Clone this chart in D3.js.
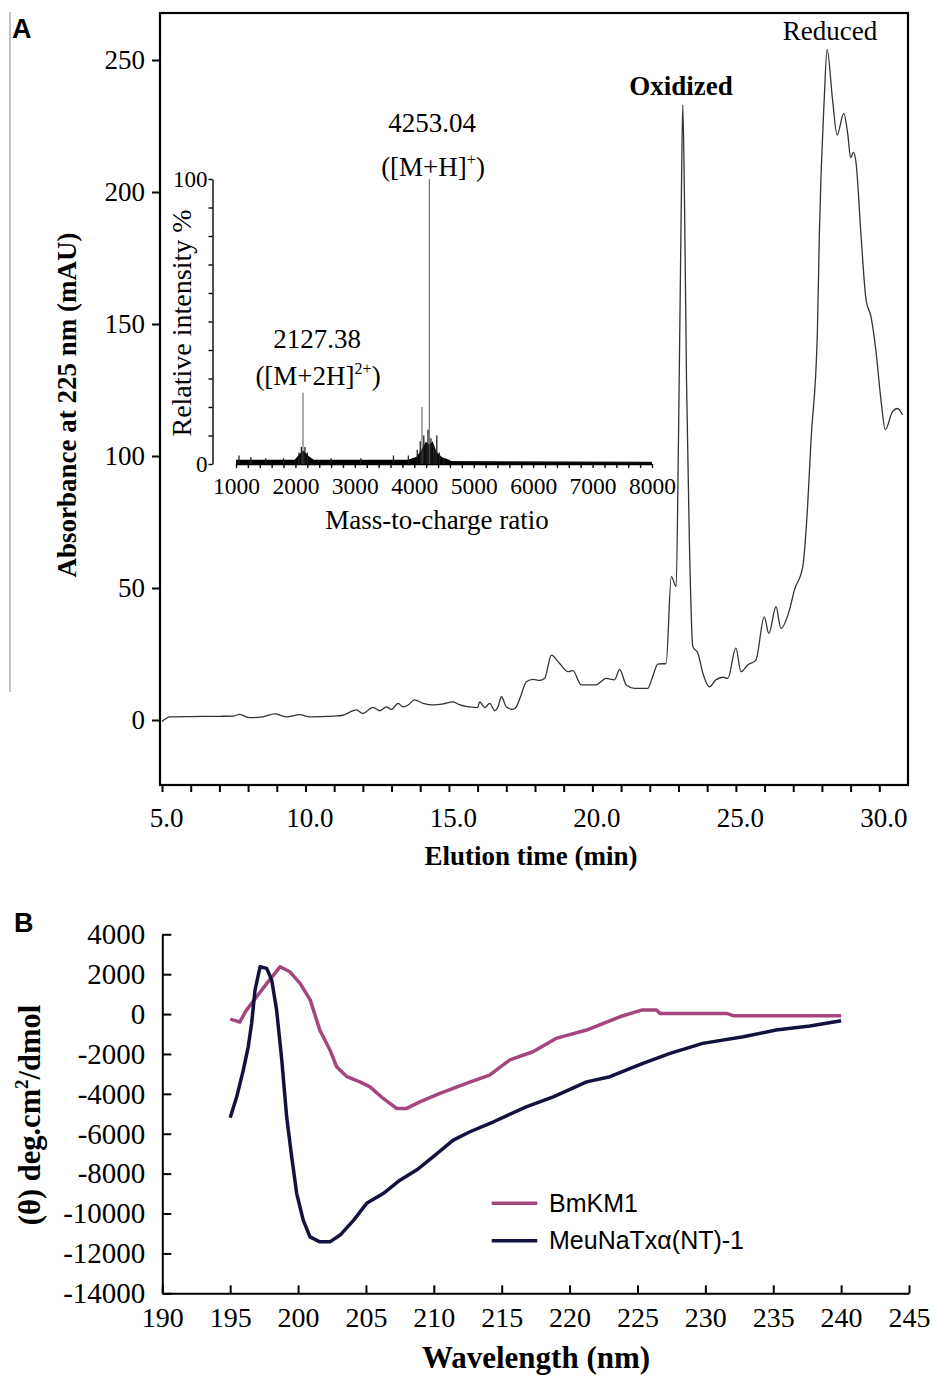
<!DOCTYPE html>
<html><head><meta charset="utf-8">
<script src="https://cdn.jsdelivr.net/npm/d3@7"></script>
<style>body{margin:0;background:#fff}</style>
</head><body><svg id="c" width="933" height="1376" xmlns="http://www.w3.org/2000/svg"></svg>
<script>
// ---------- Panel A: RP-HPLC chromatogram ----------
const chromTime = [5.0,5.28,6.0,7.0,7.5,7.7,8.06,8.5,8.93,9.34,9.8,10.15,11.0,11.3,11.78,12.0,12.35,12.6,12.82,13.0,13.23,13.4,13.58,13.8,14.1,14.45,14.8,15.15,15.38,15.72,16.0,16.07,16.25,16.42,16.6,16.71,16.83,17.0,17.23,17.35,17.5,17.7,17.93,18.16,18.34,18.57,18.86,19.15,19.32,19.61,20.13,20.48,20.77,20.95,21.18,21.47,21.93,22.1,22.28,22.57,22.75,22.92,23.0,23.1,23.15,23.21,23.28,23.38,23.5,23.68,23.85,24.08,24.3,24.55,24.72,25.0,25.18,25.41,25.7,25.99,26.15,26.4,26.57,26.87,27.04,27.33,27.5,27.62,27.84,27.91,28.08,28.18,28.37,28.53,28.76,28.9,29.0,29.1,29.19,29.36,29.54,29.71,29.88,30.06,30.21,30.46,30.64,30.81];
const chromAbs  = [-0.6,1.2,1.3,1.4,1.5,2.1,0.9,1.2,2.3,1.2,2.0,1.2,1.5,1.8,3.8,2.5,4.8,3.5,5.0,4.0,6.3,5.0,5.7,7.6,6.3,5.7,6.1,6.9,5.7,5.0,4.7,6.9,4.7,6.3,3.5,5.0,8.8,5.0,4.0,5.0,9.0,14.5,15.4,15.0,15.8,24.6,21.4,18.3,18.7,13.3,13.3,15.8,15.2,19.2,13.3,12.0,12.0,16.4,21.2,21.4,54.3,50.5,106,197,233,197,129,68,27.8,25.2,17.7,12.6,15.2,16.2,15.8,27.2,18.3,20.8,22.7,39.1,32.8,42.9,34.7,41.7,49.2,58,80.8,106,146,184,235,254,235,221.6,229.8,222,213,215,211,184,159,152.8,140,121,110,116.8,118,115.5];
const timeTicks = [5,10,15,20,25,30];
const absTicks = [0,50,100,150,200,250];

// ---------- Inset: mass spectrum ----------
const msBaseMz  = [1000,2000,2080,2130,2200,2300,3900,4050,4150,4200,4253,4300,4350,4450,4600,8000];
const msBaseInt = [1,1,3,4,2.5,1,1,2,5,7,6,7,4,2,0.8,0.5];
const msPeakMz  = [1050,1250,1500,1800,2060,2100,2127,2160,2200,2600,3100,3650,3900,4050,4100,4130,4160,4200,4230,4253,4280,4320,4350,4379,4420,4500];
const msPeakInt = [3,2.5,2,2,4,6,25,6,4,2,2,3,3,5,8,20,10,7,12,100,9,7,5,10,4,2];
const msTicks = [1000,2000,3000,4000,5000,6000,7000,8000];

// ---------- Panel B: CD spectra ----------
const bmWl    = [195,195.5,195.7,196.2,196.95,197.7,198.67,199.4,200.15,200.9,201.6,202.35,202.84,203.6,204.55,205.3,206.27,207.26,208.0,208.97,210.45,212.5,214.1,215.6,217.3,219.0,221.25,223.7,225.3,226.4,226.65,231.56,232.05,240];
const bmTheta = [-250,-350,-400,200,870,1540,2370,2120,1540,700,-800,-1800,-2640,-3140,-3400,-3650,-4230,-4730,-4730,-4400,-3980,-3450,-3060,-2300,-1890,-1220,-800,-135,200,200,35,35,-80,-80];
const meuWl    = [195,195.48,195.97,196.33,196.58,196.83,197.2,197.69,198.06,198.42,198.8,199.16,199.53,199.9,200.38,200.88,201.6,202.35,203.1,204.1,205.05,206.27,207.5,208.73,209.96,211.43,212.66,214.4,216.8,218.8,221.25,222.97,225.4,227.4,229.8,232.8,235.2,237.7,240];
const meuTheta = [-5200,-4150,-2800,-1640,-460,1200,2370,2290,1700,200,-2300,-5150,-7150,-9000,-10330,-11170,-11420,-11420,-11080,-10330,-9490,-9000,-8330,-7820,-7150,-6320,-5900,-5400,-4650,-4150,-3400,-3140,-2470,-1970,-1470,-1140,-800,-600,-335];
const wlTicks = [190,195,200,205,210,215,220,225,230,235,240,245];
const thetaTicks = [-14000,-12000,-10000,-8000,-6000,-4000,-2000,0,2000,4000];
const seriesNames = ["BmKM1","MeuNaTxα(NT)-1"];

// ================= drawing =================
const SERIF = "'Liberation Serif','Times New Roman',serif";
const SANS = "'Liberation Sans',Arial,sans-serif";
const svg = d3.select("#c");

function styleAxis(g, size, sw) {
  g.selectAll("text").attr("font-family", SERIF).attr("font-size", size).attr("fill", "#000");
  g.selectAll("line").attr("stroke", "#000").attr("stroke-width", sw);
  g.selectAll("path.domain").attr("stroke", "#000").attr("stroke-width", sw);
}

// stray left rule
svg.append("line").attr("x1",10).attr("x2",10).attr("y1",12).attr("y2",692).attr("stroke","#888").attr("stroke-width",1);

// ---- Panel A ----
const xA = d3.scaleLinear().domain([4.93, 31.0]).range([160, 908]);
const yA = d3.scaleLinear().domain([0, 250]).range([720, 60]);

svg.append("text").attr("x",12).attr("y",38).attr("font-family",SANS).attr("font-weight","bold").attr("font-size",27).text("A");

svg.append("defs").append("clipPath").attr("id","clipA").append("rect").attr("x",160).attr("y",13).attr("width",748).attr("height",772);

const gxA = svg.append("g").attr("transform","translate(0,785)")
  .call(d3.axisBottom(xA).tickValues(d3.range(5,31,1)).tickSize(7).tickSizeOuter(0).tickPadding(15.5)
    .tickFormat(d => timeTicks.includes(d) ? d.toFixed(1) : ""));
gxA.select(".domain").remove();
styleAxis(gxA, 27, 2);
gxA.selectAll("text").attr("dx", 4);

const gyA = svg.append("g").attr("transform","translate(160,0)")
  .call(d3.axisLeft(yA).tickValues(absTicks).tickSize(8).tickSizeOuter(0).tickPadding(7).tickFormat(d => String(d)));
gyA.select(".domain").remove();
styleAxis(gyA, 27, 2);

svg.append("rect").attr("x",160).attr("y",13).attr("width",748).attr("height",772)
  .attr("fill","none").attr("stroke","#000").attr("stroke-width",2.2);

const chromData = chromTime.map((t,i) => [t, chromAbs[i]]);
svg.append("path").datum(chromData).attr("clip-path","url(#clipA)")
  .attr("d", d3.line().x(d => xA(d[0])).y(d => yA(d[1])).curve(d3.curveMonotoneX))
  .attr("fill","none").attr("stroke","#333").attr("stroke-width",1.3);

svg.append("text").attr("x",681).attr("y",95).attr("text-anchor","middle").attr("font-family",SERIF)
  .attr("font-weight","bold").attr("font-size",27).text("Oxidized");
svg.append("text").attr("x",830).attr("y",40).attr("text-anchor","middle").attr("font-family",SERIF)
  .attr("font-size",27).text("Reduced");

svg.append("text").attr("x",531).attr("y",865).attr("text-anchor","middle").attr("font-family",SERIF)
  .attr("font-weight","bold").attr("font-size",27).text("Elution time (min)");
svg.append("text").attr("transform","translate(76,405) rotate(-90)").attr("text-anchor","middle")
  .attr("font-family",SERIF).attr("font-weight","bold").attr("font-size",27).text("Absorbance at 225 nm (mAU)");

// ---- Inset ----
const xI = d3.scaleLinear().domain([1000, 8000]).range([236, 652]);
const yI = d3.scaleLinear().domain([0, 100]).range([464, 179]);

const gyI = svg.append("g").attr("transform","translate(212.5,0)")
  .call(d3.axisLeft(yI).tickValues(d3.range(0,101,10)).tickSize(4).tickSizeOuter(0).tickPadding(1)
    .tickFormat(d => (d === 0 || d === 100) ? String(d) : ""));
styleAxis(gyI, 23, 1.4);

const gxI = svg.append("g").attr("transform","translate(0,464)")
  .call(d3.axisBottom(xI).tickValues(d3.range(1000,8001,200)).tickSize(4).tickSizeOuter(0).tickPadding(9.8)
    .tickFormat(d => msTicks.includes(d) ? String(d) : ""));
styleAxis(gxI, 23.5, 1.4);

const baseData = msBaseMz.map((m,i) => [m, msBaseInt[i]]);
svg.append("path").datum(baseData)
  .attr("d", d3.area().x(d => xI(d[0])).y0(yI(0)).y1(d => yI(d[1])))
  .attr("fill","#000");
svg.append("path").datum(baseData.filter(d => d[0] <= 4600))
  .attr("d", d3.line().x(d => xI(d[0])).y(d => yI(d[1])))
  .attr("fill","none").attr("stroke","#000").attr("stroke-width",3);
svg.append("path").datum(baseData.filter(d => d[0] >= 4600))
  .attr("d", d3.line().x(d => xI(d[0])).y(d => yI(d[1])))
  .attr("fill","none").attr("stroke","#111").attr("stroke-width",1.6);
svg.append("g").selectAll("line").data(msPeakMz.map((m,i) => [m, msPeakInt[i]])).join("line")
  .attr("x1", d => xI(d[0])).attr("x2", d => xI(d[0]))
  .attr("y1", yI(0)).attr("y2", d => yI(d[1]))
  .attr("stroke", d => d[1] > 15 ? "#555" : "#222").attr("stroke-width", d => d[1] > 15 ? 1 : 1.3);

svg.append("text").attr("x",437).attr("y",529).attr("text-anchor","middle").attr("font-family",SERIF)
  .attr("font-size",27).text("Mass-to-charge ratio");
svg.append("text").attr("transform","translate(191,323) rotate(-90)").attr("text-anchor","middle")
  .attr("font-family",SERIF).attr("font-size",28).text("Relative intensity %");

svg.append("text").attr("x",432).attr("y",132).attr("text-anchor","middle").attr("font-family",SERIF)
  .attr("font-size",27).text("4253.04");
const t1 = svg.append("text").attr("x",433).attr("y",176).attr("text-anchor","middle").attr("font-family",SERIF).attr("font-size",27);
t1.append("tspan").text("([M+H]");
t1.append("tspan").attr("dy",-11).attr("font-size",16).text("+");
t1.append("tspan").attr("dy",11).text(")");

svg.append("text").attr("x",317).attr("y",348).attr("text-anchor","middle").attr("font-family",SERIF)
  .attr("font-size",27).text("2127.38");
const t2 = svg.append("text").attr("x",318).attr("y",385).attr("text-anchor","middle").attr("font-family",SERIF).attr("font-size",27);
t2.append("tspan").text("([M+2H]");
t2.append("tspan").attr("dy",-11).attr("font-size",16).text("2+");
t2.append("tspan").attr("dy",11).text(")");

// ---- Panel B ----
const xB = d3.scaleLinear().domain([190, 245]).range([162.3, 909]);
const yB = d3.scaleLinear().domain([-14000, 4000]).range([1293.3, 934.3]);

svg.append("text").attr("x",14).attr("y",932).attr("font-family",SANS).attr("font-weight","bold").attr("font-size",27).text("B");

const gyB = svg.append("g").attr("transform","translate(162.3,0)")
  .call(d3.axisLeft(yB).tickValues(thetaTicks).tickSize(-9).tickSizeOuter(0).tickPadding(17).tickFormat(d => String(d)));
styleAxis(gyB, 29, 2);

const gxB = svg.append("g").attr("transform","translate(0,1293.3)")
  .call(d3.axisBottom(xB).tickValues(wlTicks).tickSize(-8).tickSizeOuter(0).tickPadding(14).tickFormat(d => String(d)));
styleAxis(gxB, 28, 2);

const colors = ["#a5467f", "#12123f"];
const lineB = d3.line().x(d => xB(d[0])).y(d => yB(d[1]));
svg.append("path").datum(bmWl.map((w,i) => [w, bmTheta[i]])).attr("d", lineB)
  .attr("fill","none").attr("stroke",colors[0]).attr("stroke-width",3.5).attr("stroke-linejoin","round");
svg.append("path").datum(meuWl.map((w,i) => [w, meuTheta[i]])).attr("d", lineB)
  .attr("fill","none").attr("stroke",colors[1]).attr("stroke-width",3.5).attr("stroke-linejoin","round");

const leg = svg.append("g");
seriesNames.forEach((n,i) => {
  const y = 1203.3 + i*37.4;
  leg.append("line").attr("x1",491.7).attr("x2",537.3).attr("y1",y).attr("y2",y).attr("stroke",colors[i]).attr("stroke-width",3.5);
  leg.append("text").attr("x",549).attr("y",y+8.5).attr("font-family",SANS).attr("font-size",25).text(n);
});

svg.append("text").attr("x",536).attr("y",1368).attr("text-anchor","middle").attr("font-family",SERIF)
  .attr("font-weight","bold").attr("font-size",31).text("Wavelength (nm)");
const t3 = svg.append("text").attr("transform","translate(40,1115) rotate(-90)").attr("text-anchor","middle")
  .attr("font-family",SERIF).attr("font-weight","bold").attr("font-size",30.5);
t3.append("tspan").text("(θ) deg.cm");
t3.append("tspan").attr("dy",-12).attr("font-size",19).text("2");
t3.append("tspan").attr("dy",12).text("/dmol");
</script></body></html>
